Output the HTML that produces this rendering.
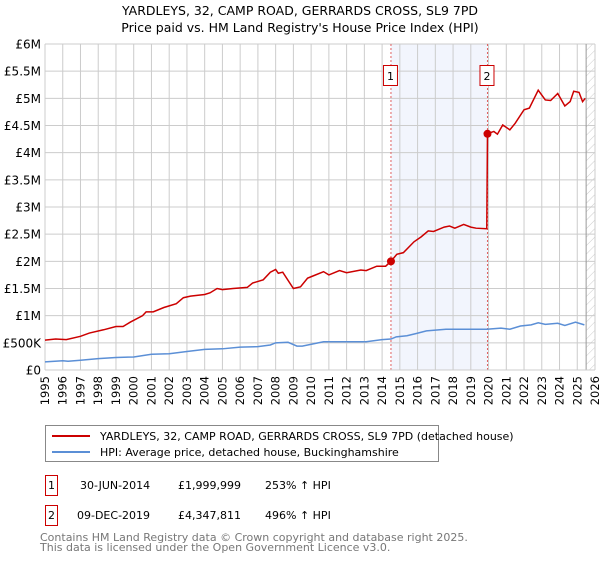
<!DOCTYPE html>
<html><head><meta charset="utf-8"><style>
body{margin:0;background:#fff;font-family:"Liberation Sans","DejaVu Sans",sans-serif;}
svg text{font-family:"DejaVu Sans","Liberation Sans",sans-serif;}
</style></head><body>
<svg id="c" width="600" height="560" xmlns="http://www.w3.org/2000/svg">
<defs><pattern id="hatch" width="6" height="6" patternUnits="userSpaceOnUse" patternTransform="rotate(45)"><line x1="0" y1="0" x2="0" y2="6" stroke="#ccc" stroke-width="1"/></pattern></defs>
<text x="300" y="15" text-anchor="middle" font-size="12.5" fill="#000">YARDLEYS, 32, CAMP ROAD, GERRARDS CROSS, SL9 7PD</text>
<text x="300" y="32" text-anchor="middle" font-size="12.5" fill="#000">Price paid vs. HM Land Registry's House Price Index (HPI)</text>
<g id="plot"></g>
<g>
<rect x="45.5" y="425.5" width="393" height="36" fill="#fff" stroke="#888"/>
<line x1="52" y1="436" x2="90" y2="436" stroke="#cc0000" stroke-width="2"/>
<text x="100" y="440" font-size="11">YARDLEYS, 32, CAMP ROAD, GERRARDS CROSS, SL9 7PD (detached house)</text>
<line x1="52" y1="452" x2="90" y2="452" stroke="#5b8fd6" stroke-width="2"/>
<text x="100" y="456" font-size="11">HPI: Average price, detached house, Buckinghamshire</text>
</g>
<g font-size="11">
<rect x="45.5" y="475.5" width="12" height="20" fill="#fff" stroke="#cc0000"/>
<text x="51.5" y="489" text-anchor="middle">1</text>
<text x="80" y="489">30-JUN-2014</text>
<text x="178" y="489">£1,999,999</text>
<text x="265" y="489">253% ↑ HPI</text>
<rect x="45.5" y="505.5" width="12" height="20" fill="#fff" stroke="#cc0000"/>
<text x="51.5" y="519" text-anchor="middle">2</text>
<text x="77" y="519">09-DEC-2019</text>
<text x="178" y="519">£4,347,811</text>
<text x="265" y="519">496% ↑ HPI</text>
</g>
<text x="40" y="541" font-size="11" fill="#777">Contains HM Land Registry data © Crown copyright and database right 2025.</text>
<text x="40" y="551" font-size="11" fill="#777">This data is licensed under the Open Government Licence v3.0.</text>
</svg>
<script>
const yearTicks=[1995,1996,1997,1998,1999,2000,2001,2002,2003,2004,2005,2006,2007,2008,2009,2010,2011,2012,2013,2014,2015,2016,2017,2018,2019,2020,2021,2022,2023,2024,2025,2026];
const valueTicks=[0,0.5,1,1.5,2,2.5,3,3.5,4,4.5,5,5.5,6];
const valueLabels=["£0","£500K","£1M","£1.5M","£2M","£2.5M","£3M","£3.5M","£4M","£4.5M","£5M","£5.5M","£6M"];
const priceYears=[1995,1995.6,1996.2,1997,1997.5,1998.3,1999,1999.4,1999.8,2000.5,2000.7,2001.1,2001.7,2002,2002.4,2002.8,2003.2,2004,2004.3,2004.7,2005,2005.6,2006.4,2006.7,2007.3,2007.7,2008,2008.15,2008.4,2009,2009.4,2009.8,2010.1,2010.7,2011,2011.6,2012,2012.8,2013.1,2013.7,2014.2,2014.5,2014.83,2015.2,2015.8,2016.2,2016.6,2016.9,2017.5,2017.8,2018.1,2018.6,2019,2019.3,2019.9,2019.94,2020.3,2020.5,2020.8,2021.2,2021.5,2022,2022.3,2022.8,2023.2,2023.5,2023.9,2024.3,2024.6,2024.8,2025.1,2025.3,2025.45];
const priceValues=[0.55,0.57,0.56,0.62,0.68,0.74,0.80,0.80,0.88,1.00,1.07,1.07,1.15,1.18,1.22,1.33,1.36,1.39,1.42,1.50,1.48,1.50,1.52,1.60,1.66,1.80,1.85,1.78,1.80,1.50,1.53,1.69,1.73,1.81,1.75,1.83,1.79,1.84,1.83,1.91,1.91,2.0,2.13,2.16,2.36,2.45,2.56,2.55,2.63,2.65,2.61,2.68,2.63,2.61,2.60,4.35,4.39,4.34,4.51,4.42,4.54,4.79,4.82,5.15,4.97,4.96,5.09,4.86,4.94,5.13,5.11,4.94,5.0];
const hpiYears=[1995,1996,1996.3,1997,1998,1999,2000,2001,2002,2003,2004,2005,2006,2007,2007.7,2008,2008.7,2009.2,2009.5,2010.7,2012,2013.1,2014,2014.5,2014.8,2015.4,2015.9,2016.5,2017.6,2018.8,2019.9,2020.7,2021.2,2021.8,2022.4,2022.8,2023.2,2023.9,2024.3,2024.9,2025.4];
const hpiValues=[0.15,0.17,0.16,0.18,0.21,0.23,0.24,0.29,0.30,0.34,0.38,0.39,0.42,0.43,0.46,0.50,0.51,0.44,0.44,0.52,0.52,0.52,0.56,0.57,0.61,0.63,0.67,0.72,0.75,0.75,0.75,0.77,0.75,0.81,0.83,0.87,0.84,0.86,0.82,0.88,0.83];
const saleYears=[2014.5,2019.94];
const saleValues=[1.999999,4.347811];
const saleLabels=["1","2"];

const X0=45,X1=595,Y0=370,Y1=44;
const xs=y=>X0+(y-1995)/(2026-1995)*(X1-X0);
const ys=v=>Y0-v/6*(Y0-Y1);
const NS="http://www.w3.org/2000/svg";
const plot=document.getElementById('plot');
function mk(tag,attrs,parent){const e=document.createElementNS(NS,tag);for(const k in attrs)e.setAttribute(k,attrs[k]);(parent||plot).appendChild(e);return e;}

let sh=mk('rect',{x:xs(saleYears[0]),y:Y1,width:xs(saleYears[1])-xs(saleYears[0]),height:Y0-Y1,fill:'#f2f5fd'});


let ht=mk('rect',{x:xs(2025.5),y:Y1,width:X1-xs(2025.5),height:Y0-Y1,fill:'url(#hatch)'});


yearTicks.forEach(yr=>{
  let l=mk('line',{x1:xs(yr),x2:xs(yr),y1:Y1,y2:Y0,stroke:'#ccc','stroke-width':1});
  
  
  let t=mk('text',{x:0,y:0,'font-size':11.5,'text-anchor':'end',transform:`translate(${xs(yr)+4},${Y0+6}) rotate(-90)`});
  t.textContent=yr;
  
  
});
valueTicks.forEach((v,i)=>{
  let l=mk('line',{x1:X0,x2:X1,y1:ys(v),y2:ys(v),stroke:'#ccc','stroke-width':1});
  
  
  let t=mk('text',{x:X0-4,y:ys(v)+4.5,'font-size':12,'text-anchor':'end'});
  t.textContent=valueLabels[i];
  
  
});
let bl=mk('line',{x1:xs(2025.5),x2:xs(2025.5),y1:Y1,y2:Y0,stroke:'#999','stroke-width':1});


saleYears.forEach((yr,i)=>{
  let l=mk('line',{x1:xs(yr),x2:xs(yr),y1:Y1,y2:Y0,stroke:'#e06060','stroke-width':1,'stroke-dasharray':'2,2'});
  
  
});
let hp=mk('polyline',{points:hpiYears.map((y,i)=>xs(y)+','+ys(hpiValues[i])).join(' '),fill:'none',stroke:'#5b8fd6','stroke-width':1.5});


let pp=mk('polyline',{points:priceYears.map((y,i)=>xs(y)+','+ys(priceValues[i])).join(' '),fill:'none',stroke:'#cc0000','stroke-width':1.5});


saleYears.forEach((yr,i)=>{
  let c=mk('circle',{cx:xs(yr),cy:ys(saleValues[i]),r:4,fill:'#cc0000'});
  
  
  let r=mk('rect',{x:xs(yr)-7.5,y:Y1+21.5,width:14,height:20,fill:'#fff',stroke:'#cc0000'});
  
  
  let t=mk('text',{x:xs(yr)-0.5,y:Y1+36,'font-size':11,'text-anchor':'middle'});
  t.textContent=saleLabels[i];
  
  
});
let ax=mk('line',{x1:X0,x2:X1,y1:Y0,y2:Y0,stroke:'#ccc'});


</script>
</body></html>
